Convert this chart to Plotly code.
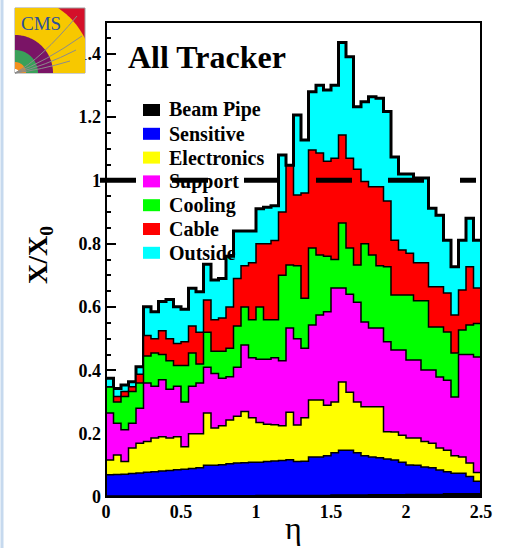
import numpy as np
import plotly.graph_objects as go

# ---------------- data ----------------
ETA_MIN, ETA_MAX, N_BINS = 0.0, 2.5, 50
Y_MAX = 1.5
REFERENCE_LEVEL = 1.0

materials = ["Beam Pipe", "Sensitive", "Electronics", "Support", "Cooling", "Cable", "Outside"]
colors = ["#000000", "#0000ff", "#ffff00", "#ff00ff", "#00ff00", "#ff0000", "#00ffff"]

beam_pipe = [0.003, 0.003, 0.003, 0.003, 0.003, 0.003, 0.003, 0.003, 0.003, 0.003,
             0.004, 0.004, 0.004, 0.004, 0.004, 0.004, 0.004, 0.004, 0.004, 0.004,
             0.005, 0.005, 0.005, 0.005, 0.005, 0.005, 0.005, 0.005, 0.005, 0.005,
             0.006, 0.006, 0.006, 0.006, 0.006, 0.007, 0.007, 0.007, 0.007, 0.007,
             0.008, 0.008, 0.008, 0.008, 0.008, 0.010, 0.010, 0.010, 0.010, 0.010]

sensitive = [0.067, 0.068, 0.069, 0.071, 0.073, 0.075, 0.077, 0.079, 0.081, 0.083,
             0.084, 0.086, 0.088, 0.096, 0.096, 0.098, 0.101, 0.103, 0.104, 0.106,
             0.105, 0.107, 0.109, 0.110, 0.113, 0.107, 0.108, 0.121, 0.121, 0.125,
             0.134, 0.142, 0.142, 0.134, 0.124, 0.119, 0.117, 0.113, 0.110, 0.103,
             0.093, 0.092, 0.087, 0.084, 0.077, 0.070, 0.065, 0.065, 0.055, 0.040]

electronics = [0.047, 0.062, 0.040, 0.081, 0.094, 0.097, 0.106, 0.108, 0.102, 0.104,
               0.071, 0.110, 0.108, 0.165, 0.118, 0.123, 0.138, 0.148, 0.162, 0.140,
               0.125, 0.118, 0.114, 0.110, 0.150, 0.115, 0.137, 0.180, 0.180, 0.160,
               0.160, 0.215, 0.183, 0.160, 0.155, 0.159, 0.161, 0.086, 0.088, 0.085,
               0.085, 0.086, 0.080, 0.078, 0.070, 0.068, 0.055, 0.051, 0.042, 0.027]

support = [0.148, 0.100, 0.100, 0.078, 0.110, 0.185, 0.164, 0.180, 0.154, 0.160,
           0.141, 0.150, 0.160, 0.145, 0.172, 0.150, 0.137, 0.155, 0.210, 0.190,
           0.200, 0.205, 0.212, 0.205, 0.266, 0.273, 0.220, 0.237, 0.269, 0.295,
           0.360, 0.297, 0.309, 0.315, 0.268, 0.249, 0.249, 0.284, 0.259, 0.269,
           0.247, 0.247, 0.226, 0.231, 0.224, 0.221, 0.186, 0.324, 0.343, 0.365]

cooling = [0.082, 0.067, 0.105, 0.100, 0.080, 0.085, 0.105, 0.080, 0.090, 0.065,
           0.115, 0.105, 0.060, 0.110, 0.070, 0.085, 0.090, 0.130, 0.120, 0.120,
           0.165, 0.125, 0.120, 0.270, 0.199, 0.230, 0.158, 0.243, 0.189, 0.175,
           0.090, 0.205, 0.146, 0.118, 0.247, 0.230, 0.196, 0.237, 0.174, 0.174,
           0.205, 0.187, 0.219, 0.136, 0.158, 0.152, 0.139, 0.077, 0.093, 0.106]

cable = [0.000, 0.017, 0.016, 0.015, 0.028, 0.065, 0.045, 0.075, 0.070, 0.070,
         0.075, 0.085, 0.100, 0.102, 0.100, 0.105, 0.130, 0.150, 0.130, 0.180,
         0.200, 0.240, 0.250, 0.200, 0.312, 0.224, 0.332, 0.310, 0.322, 0.300,
         0.320, 0.278, 0.284, 0.302, 0.196, 0.216, 0.250, 0.208, 0.173, 0.142,
         0.132, 0.120, 0.120, 0.127, 0.127, 0.123, 0.120, 0.127, 0.184, 0.112]

outside = [0.028, 0.026, 0.021, 0.016, 0.023, 0.091, 0.085, 0.092, 0.124, 0.116,
           0.103, 0.119, 0.128, 0.113, 0.125, 0.125, 0.160, 0.150, 0.110, 0.100,
           0.110, 0.115, 0.110, 0.180, 0.003, 0.252, 0.167, 0.184, 0.214, 0.225,
           0.230, 0.292, 0.320, 0.197, 0.252, 0.284, 0.279, 0.282, 0.263, 0.240,
           0.250, 0.267, 0.267, 0.248, 0.226, 0.167, 0.152, 0.157, 0.153, 0.151]

x_tick_vals = [0, 0.5, 1, 1.5, 2, 2.5]

# ---------------- figure geometry ----------------
W, H = 506, 548
ML, MR, MT, MB = 106, 25, 22, 51
PW, PH = W - ML - MR, H - MT - MB


def px_x(p):
    return (p - ML) / PW


def px_y(p):
    return (H - MB - p) / PH


layers = np.array([beam_pipe, sensitive, electronics, support, cooling, cable, outside])
cum = np.cumsum(layers, axis=0)
edges = np.linspace(ETA_MIN, ETA_MAX, N_BINS + 1)

fig = go.Figure()
for k in range(len(materials) - 1, -1, -1):
    yv = np.append(cum[k], cum[k][-1])
    fig.add_trace(go.Scatter(
        x=edges, y=yv, mode="lines", line_shape="hv",
        fill="tozeroy", fillcolor=colors[k],
        line=dict(color="black", width=3 if k == len(materials) - 1 else 1.5),
        name=materials[k], showlegend=False, hoverinfo="skip"))

serif = "Liberation Serif"
shapes = []
annotations = []

# frame
shapes.append(dict(type="rect", xref="paper", yref="paper", x0=0, x1=1, y0=0, y1=1,
                   line=dict(color="black", width=2), layer="above"))

# reference dashed line at X/X0 = 1
shapes.append(dict(type="line", xref="paper", yref="paper",
                   x0=px_x(100), x1=px_x(476),
                   y0=REFERENCE_LEVEL / Y_MAX, y1=REFERENCE_LEVEL / Y_MAX,
                   line=dict(color="black", width=5, dash="36px,36px"), layer="above"))

# legend (manual, ROOT style)
row0, drow = 110, 23.8
for i, name in enumerate(materials):
    cy = row0 + drow * i
    shapes.append(dict(type="rect", xref="paper", yref="paper",
                       x0=px_x(143), x1=px_x(160), y0=px_y(cy + 6), y1=px_y(cy - 6),
                       fillcolor=colors[i], line=dict(width=0), layer="above"))
    annotations.append(dict(text=name, xref="paper", yref="paper", x=px_x(167), y=px_y(cy),
                            xanchor="left", yanchor="middle", showarrow=False,
                            font=dict(family=serif, size=20, color="black", weight="bold")))

# title inside
annotations.append(dict(text="All Tracker", xref="paper", yref="paper", x=px_x(126), y=px_y(57),
                        xanchor="left", yanchor="middle", showarrow=False,
                        font=dict(family=serif, size=32, color="black", weight="bold")))

# axis titles
annotations.append(dict(text="X/X<sub>0</sub>", xref="paper", yref="paper", x=px_x(39), y=px_y(255),
                        xanchor="center", yanchor="middle", textangle=-90, showarrow=False,
                        font=dict(family=serif, size=28, color="black", weight="bold")))
annotations.append(dict(text="η", xref="paper", yref="paper", x=px_x(293), y=px_y(528),
                        xanchor="center", yanchor="middle", showarrow=False,
                        font=dict(family=serif, size=32, color="black")))

# slide border line at far left
shapes.append(dict(type="line", xref="paper", yref="paper", x0=px_x(2), x1=px_x(2),
                   y0=px_y(0), y1=px_y(H), line=dict(color="#c6d9ee", width=3), layer="above"))

# CMS logo (decorative)
LX0, LY0, LX1, LY1 = 15, 8, 85, 73
cx, cy = LX0, LY1


def sector_path(r_out):
    t = np.linspace(0, np.pi / 2, 60)
    xs = np.clip(cx + r_out * np.cos(t), LX0, LX1)
    ys = np.clip(cy - r_out * np.sin(t), LY0, LY1)
    pts = [f"{px_x(cx):.5f},{px_y(cy):.5f}"]
    pts += [f"{px_x(a):.5f},{px_y(b):.5f}" for a, b in zip(xs, ys)]
    return "M" + " L".join(pts) + " Z"


shapes.append(dict(type="rect", xref="paper", yref="paper", x0=px_x(LX0), x1=px_x(LX1),
                   y0=px_y(LY1), y1=px_y(LY0), fillcolor="#d4102a",
                   line=dict(color="#9a9a9a", width=1), layer="above"))
for r, c in [(78, "#f7c800"), (38, "#7a1466"), (23, "#3aa05a"), (11, "#f39020"), (4, "#ffffff")]:
    shapes.append(dict(type="path", xref="paper", yref="paper", path=sector_path(r),
                       fillcolor=c, line=dict(width=0), layer="above"))
for ex, ey, qx, qy in [(77, 16, 40, 60), (82, 36, 45, 62), (76, 50, 45, 66), (70, 61, 40, 70)]:
    p = (f"M{px_x(cx):.5f},{px_y(cy):.5f} Q{px_x(qx):.5f},{px_y(qy):.5f} "
         f"{px_x(ex):.5f},{px_y(ey):.5f}")
    shapes.append(dict(type="path", xref="paper", yref="paper", path=p,
                       line=dict(color="#8c8c8c", width=1), layer="above"))
annotations.append(dict(text="CMS", xref="paper", yref="paper", x=px_x(41), y=px_y(24),
                        xanchor="center", yanchor="middle", showarrow=False,
                        font=dict(family=serif, size=19, color="#2c4f9e")))

tickfont = dict(family=serif, size=18, color="black", weight="bold")
fig.update_layout(
    width=W, height=H, margin=dict(l=ML, r=MR, t=MT, b=MB),
    paper_bgcolor="white", plot_bgcolor="white",
    shapes=shapes, annotations=annotations,
    xaxis=dict(range=[ETA_MIN, ETA_MAX], tickvals=x_tick_vals, ticks="inside", ticklen=8,
               showline=False, showgrid=False, zeroline=False, layer="below traces",
               tickfont=tickfont, ticklabelstandoff=2, fixedrange=True),
    yaxis=dict(range=[0, Y_MAX], tick0=0, dtick=0.2, ticks="inside", ticklen=10, tickwidth=2,
               tickcolor="black",
               minor=dict(dtick=0.05, ticks="inside", ticklen=5, tickwidth=2, tickcolor="black"),
               showline=False, showgrid=False, zeroline=False, layer="below traces",
               tickfont=tickfont, ticklabelstandoff=4, fixedrange=True),
)

fig.write_html("out.html")
